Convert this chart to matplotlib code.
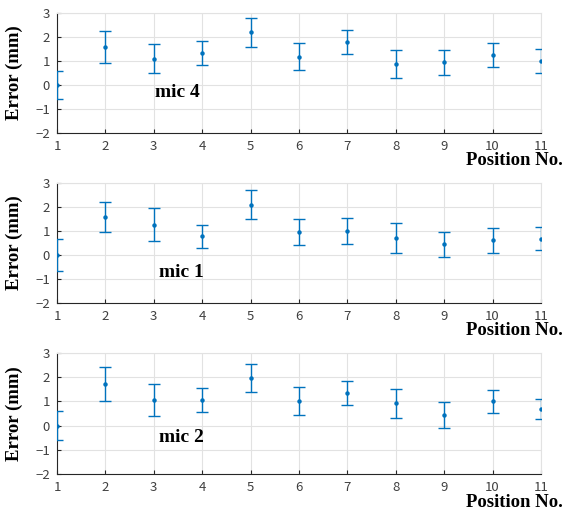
import matplotlib
matplotlib.use("Agg")
import matplotlib.pyplot as plt

plt.rcParams['font.family'] = ['Noto Sans CJK JP', 'DejaVu Sans']

positions = [1, 2, 3, 4, 5, 6, 7, 8, 9, 10, 11]

# mean error and error bar half-length for each mic
mic4_err = [0.0, 1.60, 1.10, 1.32, 2.20, 1.18, 1.79, 0.88, 0.95, 1.25, 1.02]
mic4_bar = [0.59, 0.67, 0.60, 0.50, 0.60, 0.57, 0.51, 0.59, 0.52, 0.48, 0.50]

mic1_err = [0.0, 1.57, 1.27, 0.79, 2.10, 0.96, 1.00, 0.72, 0.45, 0.61, 0.68]
mic1_bar = [0.65, 0.63, 0.70, 0.48, 0.61, 0.55, 0.53, 0.63, 0.52, 0.52, 0.47]

mic2_err = [0.0, 1.73, 1.04, 1.05, 1.96, 1.01, 1.36, 0.92, 0.45, 1.01, 0.68]
mic2_bar = [0.59, 0.70, 0.66, 0.50, 0.59, 0.59, 0.50, 0.61, 0.53, 0.47, 0.42]

panels = [
    ("mic 4", mic4_err, mic4_bar, (3.02, -0.50)),
    ("mic 1", mic1_err, mic1_bar, (3.11, -0.92)),
    ("mic 2", mic2_err, mic2_bar, (3.11, -0.68)),
]

# axes boxes in figure fractions (left, bottom, width, height)
boxes = [
    (0.1012, 0.7422, 0.8597, 0.2326),
    (0.1012, 0.4128, 0.8597, 0.2326),
    (0.1012, 0.0814, 0.8597, 0.2345),
]

blue = "#0072BD"
serif = ['Liberation Serif', 'DejaVu Serif']

fig = plt.figure(figsize=(5.63, 5.16), dpi=100)

for (name, err, bar, txt), box in zip(panels, boxes):
    ax = fig.add_axes(box)
    ax.errorbar(positions, err, yerr=bar, fmt='o', color=blue, ms=2.2,
                elinewidth=1.0, capsize=4, capthick=1.0, zorder=3)
    ax.set_xlim(1, 11)
    ax.set_ylim(-2, 3)
    ax.set_xticks(positions)
    ax.set_yticks([-2, -1, 0, 1, 2, 3])
    ax.grid(True, color="#e2e2e2", linewidth=0.8)
    ax.set_axisbelow(True)
    for side in ['top', 'right']:
        ax.spines[side].set_color("#e2e2e2")
    for side in ['left', 'bottom']:
        ax.spines[side].set_color("#262626")
        ax.spines[side].set_linewidth(0.8)
    ax.tick_params(direction='in', length=3, color="#262626", labelsize=9.5,
                   labelcolor="#404040", pad=5)
    ax.set_ylabel("Error (mm)", fontsize=13.5, fontweight='bold', family=serif)
    ax.yaxis.set_label_coords(-0.07, 0.5)
    ax.text(txt[0], txt[1], name, fontsize=14, fontweight='bold',
            family=serif, va='baseline', ha='left')
    ax.text(1.045, -0.27, "Position No.", transform=ax.transAxes,
            fontsize=13.5, fontweight='bold', family=serif, ha='right',
            va='baseline')

fig.savefig("out.png", dpi=100)
